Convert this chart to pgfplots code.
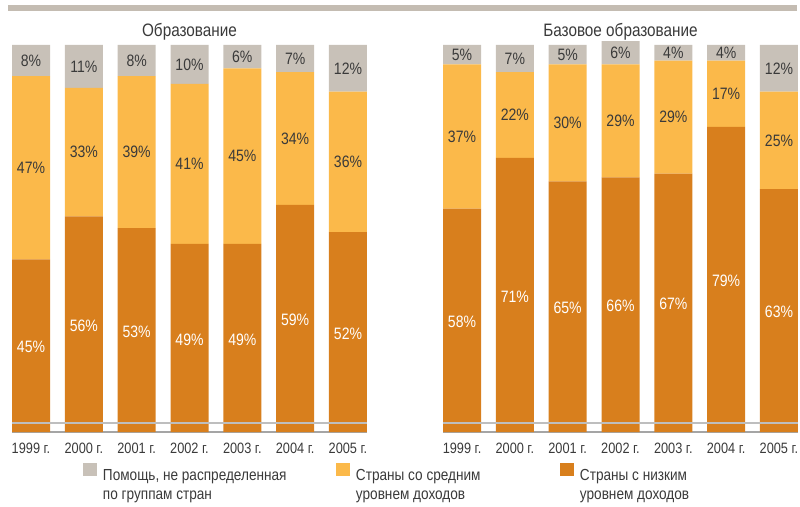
\documentclass[border=0pt]{standalone}
\usepackage{fontspec}
\setmainfont{Liberation Sans}[FakeStretch=0.85]
\usepackage{pgfplots}
\usepackage{pgfplotstable}
\pgfplotsset{compat=1.18}

\definecolor{cGray}{RGB}{200,193,184}
\definecolor{cMid}{RGB}{251,185,74}
\definecolor{cLow}{RGB}{216,127,29}
\definecolor{cRule}{RGB}{196,188,178}
\definecolor{cText}{RGB}{58,58,58}
\definecolor{cBase}{RGB}{165,165,165}
\definecolor{cBreak}{RGB}{190,190,190}

% shares by year: low income, middle income, unallocated
\pgfplotstableread{
x low mid un
0 45 47 8
1 56 33 11
2 53 39 8
3 49 41 10
4 49 45 6
5 59 34 7
6 52 36 12
}\edu

\pgfplotstableread{
x low mid un
0 58 37 5
1 71 22 7
2 65 30 5
3 66 29 6
4 67 29 4
5 79 17 4
6 63 25 12
}\basic

\newcommand\legA{\parbox[t]{233pt}{\raggedright Помощь, не распределенная\\по группам стран}}
\newcommand\legB{\parbox[t]{204pt}{\raggedright Страны со средним\\уровнем доходов}}
\newcommand\legC{\parbox[t]{150pt}{\raggedright Страны с низким\\уровнем доходов}}

\pgfplotsset{
  panel/.style={
    ybar stacked, bar width=38pt,
    scale only axis, width=355pt, height=391pt,
    xmin=-0.36, xmax=6.36, ymin=0.74, ymax=101,
    axis x line=bottom, axis y line=none,
    x axis line style={-, draw=cBase, line width=1.5pt},
    xtick={0,...,6},
    xticklabels={1999 г.,2000 г.,2001 г.,2002 г.,2003 г.,2004 г.,2005 г.},
    xtick style={draw=none},
    ytick=\empty,
    tick label style={font=\fontsize{15}{18}\selectfont, text=cText},
    xticklabel style={yshift=-5pt},
    title style={font=\fontsize{18}{21}\selectfont, text=cText,
      at={(0.5,1)}, anchor=base, yshift=-1pt},
    /pgf/number format/assume math mode=true,
    legend image code/.code={\fill[#1] (0pt,-1pt) rectangle (14pt,12pt);},
  },
  seg/.style={
    draw=none, fill=#1,
    visualization depends on=rawy \as \rawy,
    nodes near coords={\pgfmathprintnumber{\rawy}\%},
    every node near coord/.append style={font=\fontsize{16.5}{19}\selectfont,
      text=cText, anchor=center},
  },
  brk/.style={
    forget plot, stack plots=false, sharp plot, no markers,
    draw=cBreak, line width=2pt,
  },
}

\begin{document}
\begin{tikzpicture}
\useasboundingbox (0,0) rectangle (800pt,-506pt);
\fill[cRule] (8pt,-5pt) rectangle (797pt,-11pt);

\begin{axis}[panel, at={(12pt,-432pt)}, anchor=south west,
  title={Образование},
  reverse legend,
  legend style={draw=none, fill=none, inner sep=0pt, outer sep=0pt,
    at={(axis description cs:0.2,-0.0805)}, anchor=north west,
    font=\fontsize{16}{19}\selectfont, text=cText,
    nodes={inner sep=0pt},
    legend columns=3,
    /tikz/column sep=0pt,
    /tikz/every odd column/.append style={column sep=6pt}},
]
\addplot[brk] coordinates {(-0.36,3.08) (6.36,3.08)};
\addplot[seg=cLow, every node near coord/.append style={text=white}]
  table[x=x, y=low] {\edu};
\addlegendentry{\legC}
\addplot[seg=cMid] table[x=x, y=mid] {\edu};
\addlegendentry{\legB}
\addplot[seg=cGray] table[x=x, y=un] {\edu};
\addlegendentry{\legA}
\end{axis}

\begin{axis}[panel, at={(443pt,-432pt)}, anchor=south west,
  title={Базовое образование},
]
\addplot[brk] coordinates {(-0.36,3.08) (6.36,3.08)};
\addplot[seg=cLow, every node near coord/.append style={text=white}]
  table[x=x, y=low] {\basic};
\addplot[seg=cMid] table[x=x, y=mid] {\basic};
\addplot[seg=cGray] table[x=x, y=un] {\basic};
\end{axis}
\end{tikzpicture}
\end{document}
